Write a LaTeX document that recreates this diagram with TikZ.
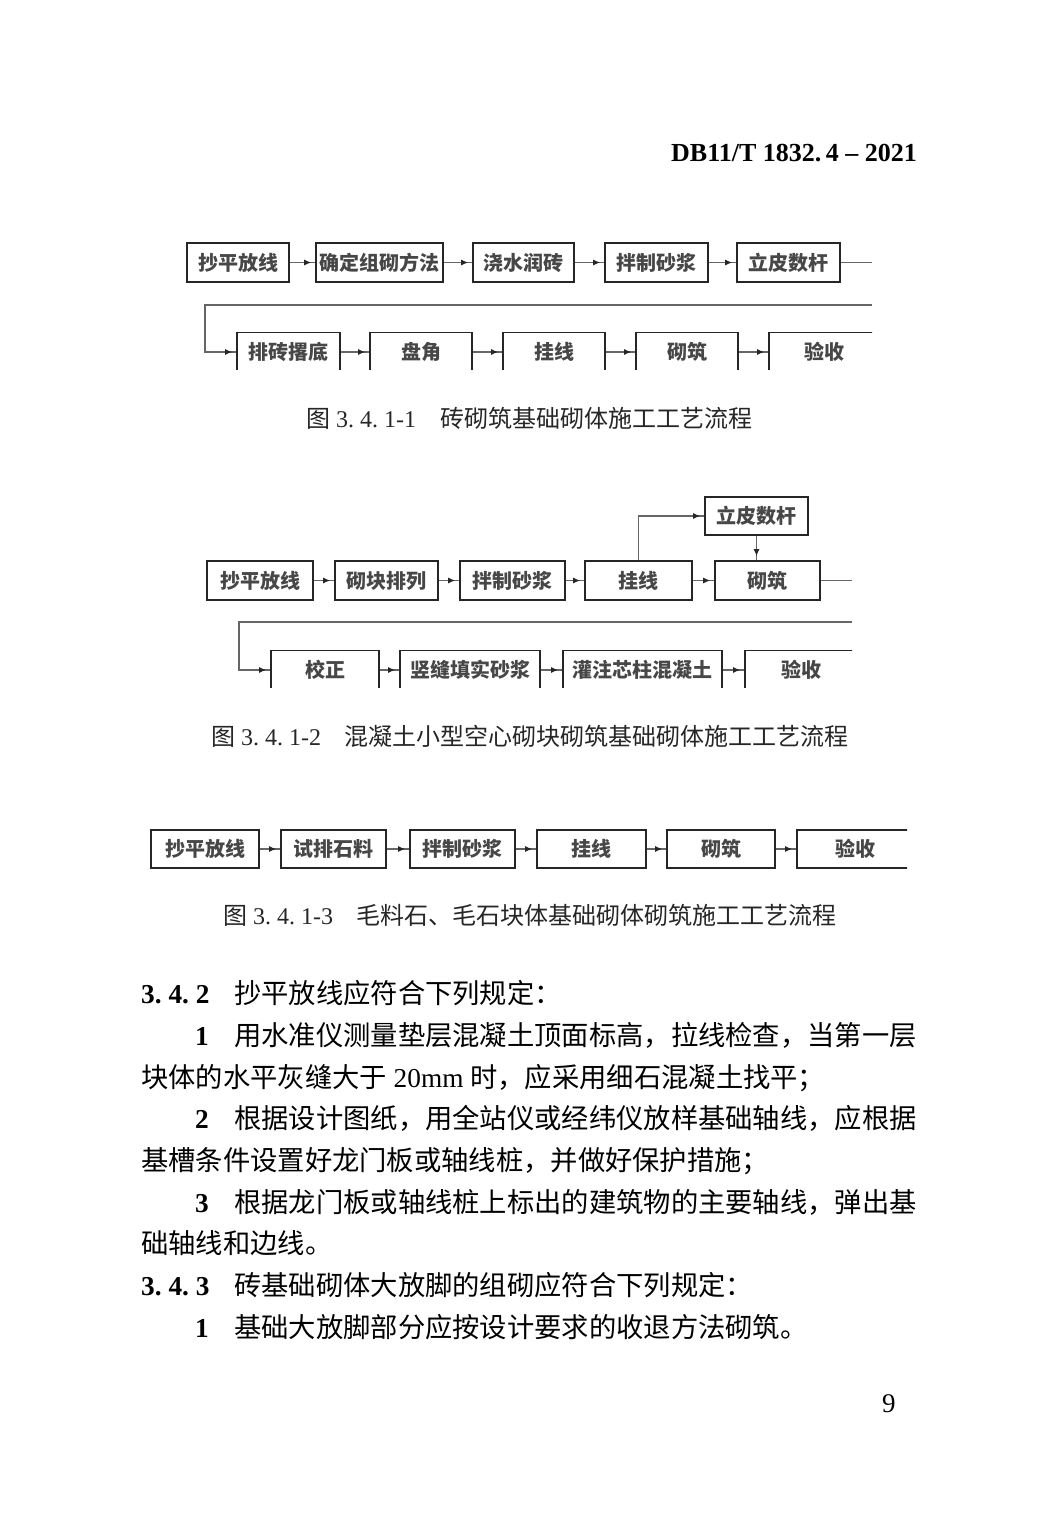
\documentclass[tikz,border=0pt]{standalone}
\usepackage{fontspec}
\setmainfont{Liberation Serif}
\newfontfamily\cjk{Noto Sans CJK SC}
\usetikzlibrary{arrows.meta,decorations.markings}
\newcommand\fsz[1]{\fontsize{#1}{#1}\selectfont}
\newcommand\boxfont{\cjk\bfseries\fsz{20}}
\begin{document}
\begin{tikzpicture}[x=1pt,y=-1pt,
  fbox/.style={draw=black!85, line width=1.6pt, minimum height=39pt, inner sep=0pt, font=\boxfont, text=black!72},
  conn/.style={draw=black!60, line width=1.3pt},
  arr/.style={conn, postaction={decorate}, decoration={markings, mark=at position -4pt with {\arrow[black!85]{Latex[length=7pt,width=6pt]}}}},
  body/.style={anchor=base west, inner sep=0pt, font=\cjk\fsz{27.3}},
  numb/.style={anchor=base west, inner sep=0pt, font=\rmfamily\bfseries\fsz{27.3}},
  capt/.style={anchor=base west, inner sep=0pt, font=\cjk\fsz{24}, text=black!85},
  captn/.style={anchor=base west, inner sep=0pt, font=\rmfamily\fsz{24}, text=black!85}]
\useasboundingbox (0,0) rectangle (1059,1536);
\fill[white] (0,0) rectangle (1059,1536);

% header
\node[anchor=base east, inner sep=0pt, font=\rmfamily\bfseries\fsz{26}] (hdr) at (917,161.6) {DB11/T 1832.\,4 – 2021};

% ---------- chart 1 ----------
\begin{scope}
\clip (180,236) rectangle (872,369.5);
\node[fbox, minimum width=102pt] (a1) at (238,262.5) {抄平放线};
\node[fbox, minimum width=127pt] (a2) at (379.5,262.5) {确定组砌方法};
\node[fbox, minimum width=101pt] (a3) at (523.5,262.5) {浇水润砖};
\node[fbox, minimum width=103pt] (a4) at (656.5,262.5) {拌制砂浆};
\node[fbox, minimum width=103pt] (a5) at (788.5,262.5) {立皮数杆};
\node[fbox, minimum width=103pt] (b1) at (288.5,352) {排砖撂底};
\node[fbox, minimum width=102pt] (b2) at (421,352) {盘角};
\node[fbox, minimum width=102pt] (b3) at (554,352) {挂线};
\node[fbox, minimum width=102pt] (b4) at (687,352) {砌筑};
\node[fbox, minimum width=110pt] (b5) at (824,352) {验收};
\coordinate (a5e) at (872,262.5);
\coordinate (l1b) at (872,305);
\coordinate (l1c) at (205,305);
\draw[arr] (a1) -- (a2);
\draw[arr] (a2) -- (a3);
\draw[arr] (a3) -- (a4);
\draw[arr] (a4) -- (a5);
\draw[conn] (a5) -- (a5e);
\draw[arr] (l1b) -- (l1c) |- (b1);
\draw[arr] (b1) -- (b2);
\draw[arr] (b2) -- (b3);
\draw[arr] (b3) -- (b4);
\draw[arr] (b4) -- (b5);
\end{scope}
\node[captn] (cap1a) at (306,427) {{\cjk 图}\ 3.\ 4.\ 1-1};
\node[capt] (cap1b) at (440,427) {砖砌筑基础砌体施工工艺流程};

% ---------- chart 2 ----------
\begin{scope}
\clip (200,490) rectangle (852,687.5);
\node[fbox, minimum width=106pt] (c1) at (260,580.5) {抄平放线};
\node[fbox, minimum width=103pt] (c2) at (386.5,580.5) {砌块排列};
\node[fbox, minimum width=105pt] (c3) at (512.5,580.5) {拌制砂浆};
\node[fbox, minimum width=107pt] (c4) at (638.5,580.5) {挂线};
\node[fbox, minimum width=105pt] (c5) at (767.5,580.5) {砌筑};
\node[fbox, minimum width=103pt, minimum height=38pt] (c6) at (756.5,516) {立皮数杆};
\node[fbox, minimum width=108pt] (d1) at (325,670) {校正};
\node[fbox, minimum width=140pt] (d2) at (470,670) {竖缝填实砂浆};
\node[fbox, minimum width=159pt] (d3) at (642.5,670) {灌注芯柱混凝土};
\node[fbox, minimum width=112pt] (d4) at (801,670) {验收};
\coordinate (c5e) at (852,580.5);
\coordinate (l2b) at (852,622);
\coordinate (l2c) at (239,622);
\draw[arr] (c1) -- (c2);
\draw[arr] (c2) -- (c3);
\draw[arr] (c3) -- (c4);
\draw[arr] (c4) -- (c5);
\draw[arr] (c4.north) |- (c6);
\draw[arr] (c6) -- (c6 |- c5.north);
\draw[conn] (c5) -- (c5e);
\draw[arr] (l2b) -- (l2c) |- (d1);
\draw[arr] (d1) -- (d2);
\draw[arr] (d2) -- (d3);
\draw[arr] (d3) -- (d4);
\end{scope}
\node[captn] (cap2a) at (211,745) {{\cjk 图}\ 3.\ 4.\ 1-2};
\node[capt] (cap2b) at (344,745) {混凝土小型空心砌块砌筑基础砌体施工工艺流程};

% ---------- chart 3 ----------
\begin{scope}
\clip (140,820) rectangle (907,872);
\node[fbox, minimum width=108pt, minimum height=38pt] (e1) at (205,849) {抄平放线};
\node[fbox, minimum width=105pt, minimum height=38pt] (e2) at (333.5,849) {试排石料};
\node[fbox, minimum width=105pt, minimum height=38pt] (e3) at (462.5,849) {拌制砂浆};
\node[fbox, minimum width=109pt, minimum height=38pt] (e4) at (591.5,849) {挂线};
\node[fbox, minimum width=108pt, minimum height=38pt] (e5) at (721,849) {砌筑};
\node[fbox, minimum width=116pt, minimum height=38pt] (e6) at (855,849) {验收};
\draw[arr] (e1) -- (e2);
\draw[arr] (e2) -- (e3);
\draw[arr] (e3) -- (e4);
\draw[arr] (e4) -- (e5);
\draw[arr] (e5) -- (e6);
\end{scope}
\node[captn] (cap3a) at (223,924) {{\cjk 图}\ 3.\ 4.\ 1-3};
\node[capt] (cap3b) at (356,924) {毛料石、毛石块体基础砌体砌筑施工工艺流程};

% ---------- body text ----------
\node[numb] (n342) at (141,1003.4) {3.\ 4.\ 2};
\node[body] (t1) at (234,1003.4) {抄平放线应符合下列规定：};
\node[numb] (n1a) at (195,1045.4) {1};
\node[body] (t2) at (234,1045.4) {用水准仪测量垫层混凝土顶面标高，拉线检查，当第一层};
\node[body] (t3) at (141,1087.4) {块体的水平灰缝大于{\rmfamily\ 20mm\ }时，应采用细石混凝土找平；};
\node[numb] (n2) at (195,1128.4) {2};
\node[body] (t4) at (234,1128.4) {根据设计图纸，用全站仪或经纬仪放样基础轴线，应根据};
\node[body] (t5) at (141,1170.4) {基槽条件设置好龙门板或轴线桩，并做好保护措施；};
\node[numb] (n3) at (195,1212.4) {3};
\node[body] (t6) at (234,1212.4) {根据龙门板或轴线桩上标出的建筑物的主要轴线，弹出基};
\node[body] (t7) at (141,1253.4) {础轴线和边线。};
\node[numb] (n343) at (141,1295.4) {3.\ 4.\ 3};
\node[body] (t8) at (234,1295.4) {砖基础砌体大放脚的组砌应符合下列规定：};
\node[numb] (n1b) at (195,1337.4) {1};
\node[body] (t9) at (234,1337.4) {基础大放脚部分应按设计要求的收退方法砌筑。};

% page number
\node[anchor=base west, inner sep=0pt, font=\rmfamily\fsz{27}] (pg) at (882,1412) {9};
\end{tikzpicture}
\end{document}
